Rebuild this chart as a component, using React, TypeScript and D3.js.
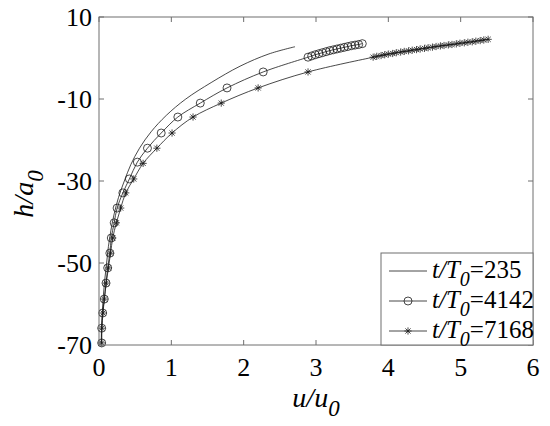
import React from "react";
import * as d3 from "d3";

const xTicks = [0, 1, 2, 3, 4, 5, 6];
const yTicks = [10, -10, -30, -50, -70];

// t/T0 = 235 (line only)
const u235 = [0.03, 0.035, 0.045, 0.06, 0.08, 0.105, 0.13, 0.165, 0.21, 0.27, 0.35, 0.44, 0.56, 0.72, 0.93, 1.2, 1.55, 1.95, 2.35, 2.71];
const h235 = [-70, -66, -62, -58, -54, -50, -46, -42, -38, -34, -30, -26, -22, -18, -14, -10, -6, -2, 1, 2.75];

// t/T0 = 4142 (circles)
const u4142 = [0.037, 0.037, 0.051, 0.073, 0.097, 0.12, 0.15, 0.17, 0.21, 0.25, 0.33, 0.42, 0.53, 0.67, 0.86, 1.09, 1.4, 1.77, 2.27,
  2.89, 2.94, 2.99, 3.04, 3.09, 3.14, 3.19, 3.24, 3.29, 3.34, 3.39, 3.44, 3.49, 3.54, 3.59, 3.64];
const h4142 = [-69.5, -65.9, -62.2, -58.8, -54.9, -51.2, -47.6, -43.9, -40.2, -36.6, -32.9, -29.5, -25.4, -22.0, -18.3, -14.4, -11.0, -7.3, -3.4,
  0.2, 0.5, 0.8, 1.05, 1.3, 1.55, 1.8, 2.0, 2.2, 2.4, 2.6, 2.8, 3.0, 3.15, 3.3, 3.5];

// t/T0 = 7168 (stars)
const u7168 = [0.037, 0.04, 0.055, 0.075, 0.1, 0.13, 0.16, 0.19, 0.24, 0.3, 0.37, 0.48, 0.61, 0.8, 1.01, 1.3, 1.69, 2.2, 2.89,
  3.79, 3.84, 3.9, 3.95, 4.0, 4.06, 4.11, 4.17, 4.22, 4.28, 4.33, 4.39, 4.44, 4.5, 4.55, 4.61, 4.66, 4.72, 4.77, 4.83, 4.88, 4.94, 4.99, 5.05, 5.1, 5.16, 5.21, 5.27, 5.32, 5.38];
const h7168 = [-69.5, -65.9, -62.2, -58.8, -54.9, -51.2, -47.6, -43.9, -40.2, -36.6, -32.9, -29.5, -25.7, -22.0, -18.3, -14.4, -11.0, -7.3, -3.4,
  0.2, 0.4, 0.6, 0.8, 0.95, 1.1, 1.3, 1.45, 1.6, 1.75, 1.9, 2.05, 2.2, 2.35, 2.5, 2.65, 2.8, 2.95, 3.05, 3.2, 3.3, 3.45, 3.6, 3.7, 3.85, 3.95, 4.1, 4.25, 4.4, 4.55];

const legendLabels = ["235", "4142", "7168"];

const W = 550, H = 426;
const L = 99, R = 533, T = 17, B = 345;
const LINE = "#1a1a1a";
const AX = "#6e6e6e";

const x = d3.scaleLinear().domain([0, 6]).range([L, R]);
const y = d3.scaleLinear().domain([-70, 10]).range([B, T]);

function pts(u: number[], h: number[]): [number, number][] {
  return u.map((v, i) => [v, h[i]]);
}

const lineGen = d3.line<[number, number]>().x(d => x(d[0])).y(d => y(d[1])).curve(d3.curveCatmullRom.alpha(0.5));

const starPath = (s: number) => {
  const d = s * 0.72;
  return `M${-s},0H${s}M0,${-s}V${s}M${-d},${-d}L${d},${d}M${-d},${d}L${d},${-d}`;
};

function Star({ cx, cy }: { cx: number; cy: number }) {
  return <path d={starPath(3.6)} transform={`translate(${cx},${cy})`} stroke={LINE} strokeWidth={0.8} fill="none" />;
}
function Circ({ cx, cy }: { cx: number; cy: number }) {
  return <circle cx={cx} cy={cy} r={4} stroke={LINE} strokeWidth={0.8} fill="none" />;
}

function T2({ children, ...rest }: any) {
  return (
    <text {...rest} fill="#000" fontFamily="Liberation Serif" style={{ fontFamily: "Liberation Serif" }}>
      {children}
    </text>
  );
}

export default function App() {
  const d235 = pts(u235, h235);
  const d4142 = pts(u4142, h4142);
  const d7168 = pts(u7168, h7168);
  const tk = 5;
  const legX = 381, legT = 253, legR = 533, legB = 345;
  const legRows = [271, 301, 331];
  return (
    <svg width={W} height={H} style={{ position: "absolute", left: 0, top: 0, background: "#fff" }}>
      <rect x={0} y={0} width={W} height={H} fill="#fff" />
      {/* data */}
      <path d={lineGen(d235) || ""} fill="none" stroke={LINE} strokeWidth={0.8} />
      <path d={lineGen(d4142) || ""} fill="none" stroke={LINE} strokeWidth={0.8} />
      <path d={lineGen(d7168) || ""} fill="none" stroke={LINE} strokeWidth={0.8} />
      {d4142.map((d, i) => <Circ key={"c" + i} cx={x(d[0])} cy={y(d[1])} />)}
      {d7168.map((d, i) => <Star key={"s" + i} cx={x(d[0])} cy={y(d[1])} />)}
      {/* axes box */}
      <rect x={L} y={T} width={R - L} height={B - T} fill="none" stroke={AX} strokeWidth={1} />
      {xTicks.map(t => (
        <g key={"xt" + t}>
          <line x1={x(t)} x2={x(t)} y1={B} y2={B - tk} stroke={AX} />
          <line x1={x(t)} x2={x(t)} y1={T} y2={T + tk} stroke={AX} />
          <T2 x={x(t)} y={376} fontSize={26} textAnchor="middle">{t}</T2>
        </g>
      ))}
      {yTicks.map(t => (
        <g key={"yt" + t}>
          <line x1={L} x2={L + tk} y1={y(t)} y2={y(t)} stroke={AX} />
          <line x1={R} x2={R - tk} y1={y(t)} y2={y(t)} stroke={AX} />
          <T2 x={92} y={y(t) + 9} fontSize={26} textAnchor="end">{t}</T2>
        </g>
      ))}
      {/* axis titles */}
      <T2 x={316} y={407} fontSize={28} textAnchor="middle">
        <tspan fontStyle="italic">u/u</tspan>
        <tspan fontStyle="italic" fontSize={23} dy={9}>0</tspan>
      </T2>
      <T2 transform="translate(33,194) rotate(-90)" fontSize={28} textAnchor="middle">
        <tspan fontStyle="italic">h/a</tspan>
        <tspan fontStyle="italic" fontSize={23} dy={10}>0</tspan>
      </T2>
      {/* legend */}
      <rect x={legX} y={legT} width={legR - legX} height={legB - legT} fill="#fff" stroke={AX} strokeWidth={1} />
      {legendLabels.map((lab, i) => (
        <g key={"lg" + i}>
          <line x1={389} x2={427} y1={legRows[i]} y2={legRows[i]} stroke={LINE} strokeWidth={0.8} />
          {i === 1 && <Circ cx={408} cy={legRows[i]} />}
          {i === 2 && <Star cx={408} cy={legRows[i]} />}
          <T2 x={432} y={legRows[i] + 7} fontSize={25}>
            <tspan fontStyle="italic">t/T</tspan>
            <tspan fontStyle="italic" fontSize={20} dy={8}>0</tspan>
            <tspan dy={-8}>={lab}</tspan>
          </T2>
        </g>
      ))}
    </svg>
  );
}
